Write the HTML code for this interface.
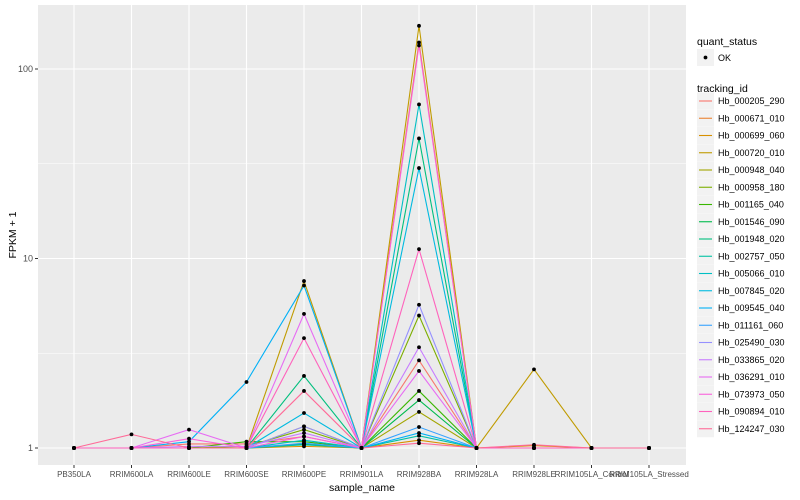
<!DOCTYPE html>
<html><head><meta charset="utf-8"><style>
body{margin:0;background:#fff;}
svg{display:block;font-family:"Liberation Sans",sans-serif;}
</style></head><body>
<svg id="chart" width="800" height="500"></svg>
<script>
const categories=["PB350LA","RRIM600LA","RRIM600LE","RRIM600SE","RRIM600PE","RRIM901LA","RRIM928BA","RRIM928LA","RRIM928LE","RRIM105LA_Control","RRIM105LA_Stressed"];
const seriesNames=["Hb_000205_290","Hb_000671_010","Hb_000699_060","Hb_000720_010","Hb_000948_040","Hb_000958_180","Hb_001165_040","Hb_001546_090","Hb_001948_020","Hb_002757_050","Hb_005066_010","Hb_007845_020","Hb_009545_040","Hb_011161_060","Hb_025490_030","Hb_033865_020","Hb_036291_010","Hb_073973_050","Hb_090894_010","Hb_124247_030"];
const seriesColors=["#F8766D","#EA8331","#D89000","#C09B00","#A3A500","#7CAE00","#39B600","#00BB4E","#00BF7D","#00C1A3","#00BFC4","#00BAE0","#00B0F6","#35A2FF","#9590FF","#C77CFF","#E76BF3","#FA62DB","#FF62BC","#FF6A98"];
const s01=[1,1,1.05,1.05,1.15,1,2.9,1,1,1,1];
const s02=[1,1,1,1,1.05,1,138,1,1,1,1];
const s03=[1,1,1,1,1.02,1,1.1,1,1.03,1,1];
const s04=[1,1,1,1,7.6,1,169,1,2.6,1,1];
const s05=[1,1,1,1,1.3,1,1.55,1,1,1,1];
const s06=[1,1,1,1.02,1.25,1,5.0,1,1,1,1];
const s07=[1,1,1,1.08,1.08,1,2.0,1,1,1,1];
const s08=[1,1,1,1,1.05,1,1.79,1,1,1,1];
const s09=[1,1,1,1,2.4,1,43,1,1,1,1];
const s10=[1,1,1,1,1.04,1,1.16,1,1,1,1];
const s11=[1,1,1,1,1.1,1,65,1,1,1,1];
const s12=[1,1,1,1,1.53,1,30,1,1,1,1];
const s13=[1,1,1.08,2.23,7.2,1,1.2,1,1,1,1];
const s14=[1,1,1,1,1.06,1,1.29,1,1,1,1];
const s15=[1,1,1,1,1.3,1,5.7,1,1,1,1];
const s16=[1,1,1.02,1.02,1.2,1,3.4,1,1,1,1];
const s17=[1,1,1.25,1,5.1,1,2.55,1,1,1,1];
const s18=[1,1,1.12,1,1.15,1,133,1,1,1,1];
const s19=[1,1,1,1,3.8,1,11.2,1,1,1,1];
const s20=[1,1.18,1,1,2.0,1,1.06,1,1.04,1,1];
const seriesValues=[s01,s02,s03,s04,s05,s06,s07,s08,s09,s10,s11,s12,s13,s14,s15,s16,s17,s18,s19,s20];
const yTicks=[1,10,100];
const yMinor=[3.1623,31.623];

const NS="http://www.w3.org/2000/svg";
const svg=document.getElementById('chart');
function mk(t,a,p){const e=document.createElementNS(NS,t);for(const k in a)e.setAttribute(k,a[k]);(p||svg).appendChild(e);return e;}
const PL=38,PR=686,PT=5,PB=465;
function xScale(i){return 74+i*57.5;}
function yScale(v){return 448-Math.log10(v)*189.5;}

const panel=mk('rect',{x:PL,y:PT,width:PR-PL,height:PB-PT,fill:'#EBEBEB'});


yMinor.forEach(v=>{mk('line',{x1:PL,x2:PR,y1:yScale(v),y2:yScale(v),stroke:'#fff','stroke-width':0.6});});
yTicks.forEach(v=>{
 mk('line',{x1:PL,x2:PR,y1:yScale(v),y2:yScale(v),stroke:'#fff','stroke-width':1.1});
 const t=mk('text',{x:33,y:yScale(v)+3,'text-anchor':'end','font-size':9,fill:'#4D4D4D'});t.textContent=v;
 
 
 mk('line',{x1:35,x2:38,y1:yScale(v),y2:yScale(v),stroke:'#333','stroke-width':1});
});
categories.forEach((c,i)=>{
 const x=xScale(i);
 mk('line',{x1:x,x2:x,y1:PT,y2:PB,stroke:'#fff','stroke-width':1.1});
 mk('line',{x1:x,x2:x,y1:PB,y2:PB+3,stroke:'#333','stroke-width':1});
 const t=mk('text',{x:x,y:477,'text-anchor':'middle','font-size':8,fill:'#4D4D4D'});t.textContent=c;
 
 
});
seriesValues.forEach((vals,si)=>{
 const pts=vals.map((v,i)=>xScale(i)+','+yScale(v)).join(' ');
 const pl=mk('polyline',{points:pts,fill:'none',stroke:seriesColors[si],'stroke-width':1.1});
 
 
});
seriesValues.forEach((vals,si)=>{
 vals.forEach((v,i)=>{
  const c=mk('circle',{cx:xScale(i),cy:yScale(v),r:1.9,fill:'#000'});
  
  
 });
});
let t=mk('text',{x:362,y:491,'text-anchor':'middle','font-size':10.5,fill:'#000'});t.textContent='sample_name';


t=mk('text',{x:0,y:0,'text-anchor':'middle','font-size':10.5,fill:'#000',transform:'translate(16,235) rotate(-90)'});t.textContent='FPKM + 1';


// legend
t=mk('text',{x:697,y:45,'font-size':10.5,fill:'#000'});t.textContent='quant_status';


mk('rect',{x:697,y:49,width:17,height:17,fill:'#F2F2F2'});
mk('circle',{cx:705.5,cy:57.5,r:1.9,fill:'#000'});
t=mk('text',{x:718,y:61,'font-size':9,fill:'#000'});t.textContent='OK';


t=mk('text',{x:697,y:92,'font-size':10.5,fill:'#000'});t.textContent='tracking_id';


seriesNames.forEach((n,i)=>{
 const y=101+i*17.25;
 mk('rect',{x:697,y:y-8.5,width:17,height:17,fill:'#F2F2F2'});
 mk('line',{x1:699,x2:712,y1:y,y2:y,stroke:seriesColors[i],'stroke-width':1.1});
 const tt=mk('text',{x:718,y:y+3,'font-size':9,fill:'#000'});tt.textContent=n;
 
 
});
</script>
</body></html>
